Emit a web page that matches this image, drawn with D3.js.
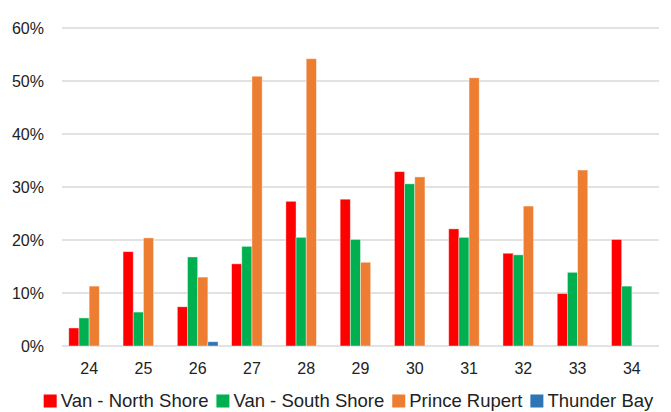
<!DOCTYPE html>
<html>
<head>
<meta charset="utf-8">
<script src="https://cdn.jsdelivr.net/npm/d3@7"></script>
<style>
  body { margin: 0; background: #fff; }
  text { font-family: "Liberation Sans", Arial, sans-serif; fill: #222; }
</style>
</head>
<body>
<div id="chart"></div>
<script>
// Weeks on the x axis
const weeks = ["24", "25", "26", "27", "28", "29", "30", "31", "32", "33", "34"];

// Values in percent (null = no bar)
const northShore = [3.4, 17.8, 7.4, 15.5, 27.3, 27.7, 32.9, 22.1, 17.5, 9.9, 20.1];
const southShore = [5.3, 6.4, 16.8, 18.8, 20.5, 20.1, 30.6, 20.5, 17.2, 13.9, 11.3];
const princeRupert = [11.3, 20.4, 13.0, 50.9, 54.2, 15.8, 31.9, 50.6, 26.4, 33.2, null];
const thunderBay = [null, null, 0.8, null, null, null, null, null, null, null, null];

const seriesNames = ["Van - North Shore", "Van - South Shore", "Prince Rupert", "Thunder Bay"];
const seriesColors = ["#FF0000", "#00B050", "#ED7D31", "#2E75B6"];
const yTicks = [0, 10, 20, 30, 40, 50, 60];

const width = 671, height = 412;
const margin = { top: 28, right: 12, bottom: 66, left: 62 };

const svg = d3.select("#chart")
    .append("svg")
    .attr("width", width)
    .attr("height", height);

const x = d3.scaleBand()
    .domain(weeks)
    .range([margin.left, width - margin.right])
    .paddingInner(0.25)
    .paddingOuter(0.125);

const xSub = d3.scaleBand()
    .domain(seriesNames)
    .range([0, x.bandwidth()]);

const y = d3.scaleLinear()
    .domain([0, 60])
    .range([height - margin.bottom, margin.top]);

// gridlines
svg.append("g")
    .selectAll("line")
    .data(yTicks)
    .enter()
    .append("line")
    .attr("x1", margin.left)
    .attr("x2", width - margin.right)
    .attr("y1", d => y(d))
    .attr("y2", d => y(d))
    .attr("stroke", "#D9D9D9")
    .attr("stroke-width", 1.5);

// y axis labels
const yAxis = svg.append("g")
    .attr("transform", `translate(${margin.left - 18},0)`)
    .call(d3.axisLeft(y).tickValues(yTicks).tickFormat(d => d + "%").tickSize(0).tickPadding(0));
yAxis.select(".domain").remove();
yAxis.selectAll("text")
    .style("font-size", "16px")
    .style("font-family", "Liberation Sans, Arial, sans-serif")
    .attr("fill", "#222");

// x axis labels
const xAxis = svg.append("g")
    .attr("transform", `translate(0,${height - margin.bottom})`)
    .call(d3.axisBottom(x).tickSize(0).tickPadding(17));
xAxis.select(".domain").remove();
xAxis.selectAll("text")
    .style("font-size", "16px")
    .style("font-family", "Liberation Sans, Arial, sans-serif")
    .attr("fill", "#222");

// bars
const allSeries = [northShore, southShore, princeRupert, thunderBay];
const groups = svg.append("g")
    .selectAll("g")
    .data(weeks)
    .enter()
    .append("g")
    .attr("transform", d => `translate(${x(d)},0)`);

groups.selectAll("rect")
    .data((w, i) => allSeries.map((s, k) => ({ name: seriesNames[k], value: s[i], color: seriesColors[k] })))
    .enter()
    .filter(d => d.value != null)
    .append("rect")
    .attr("x", d => xSub(d.name))
    .attr("y", d => y(d.value))
    .attr("width", xSub.bandwidth())
    .attr("height", d => y(0) - y(d.value))
    .attr("fill", d => d.color)
    .attr("stroke", "#fff")
    .attr("stroke-opacity", 0.5)
    .attr("stroke-width", 0.8);

// legend
const legend = svg.append("g").attr("class", "legend");
let cursor = 0;
seriesNames.forEach((name, i) => {
    const item = legend.append("g").attr("transform", `translate(${cursor},0)`);
    item.append("rect")
        .attr("x", 0)
        .attr("y", -6.5)
        .attr("width", 13)
        .attr("height", 13)
        .attr("fill", seriesColors[i]);
    const t = item.append("text")
        .attr("x", 17)
        .attr("dy", "0.35em")
        .style("font-size", "18.5px")
        .text(name);
    cursor += 17 + t.node().getComputedTextLength() + 8;
});
const legendWidth = cursor - 8;
legend.attr("transform", `translate(${(width - legendWidth) / 2 + 13},401)`);
</script>
</body>
</html>
